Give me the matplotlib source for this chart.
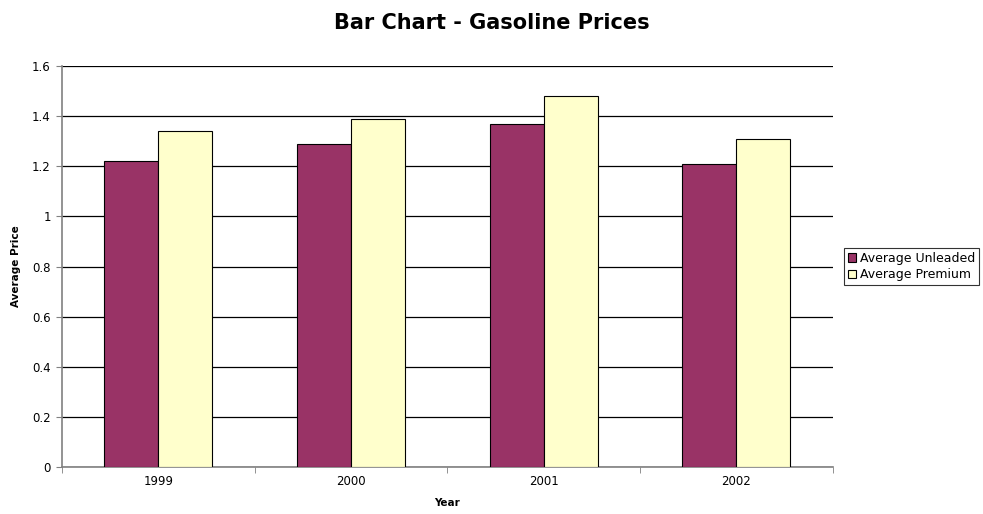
import matplotlib.pyplot as plt
import numpy as np

# data
years = ['1999', '2000', '2001', '2002']
unleaded = [1.22, 1.29, 1.37, 1.21]
premium = [1.34, 1.39, 1.48, 1.31]

plt.rcParams['font.family'] = ['DejaVu Sans']

fig = plt.figure(figsize=(9.83, 5.14), dpi=100)
ax = fig.add_axes([0.063, 0.0914, 0.784, 0.7802])

x = np.arange(len(years))
bar_width = 0.28
ax.bar(x - bar_width / 2, unleaded, bar_width, color='#993366', edgecolor='black',
       linewidth=0.8, label='Average Unleaded', zorder=3)
ax.bar(x + bar_width / 2, premium, bar_width, color='#FFFFCC', edgecolor='black',
       linewidth=0.8, label='Average Premium', zorder=3)

ax.set_xlim(-0.5, len(years) - 0.5)
ax.set_ylim(0, 1.6)
ax.set_yticks(np.arange(0, 1.61, 0.2))
ax.set_yticklabels(['0', '0.2', '0.4', '0.6', '0.8', '1', '1.2', '1.4', '1.6'])
ax.set_xticks(x)
ax.set_xticklabels(years)
ax.set_xticks(np.arange(-0.5, len(years), 1), minor=True)
ax.tick_params(axis='x', which='major', length=0, labelsize=8.5, pad=6)
ax.tick_params(axis='x', which='minor', length=4, color='#808080', direction='out')
ax.tick_params(axis='y', labelsize=8.5, length=4, color='#808080', direction='out', pad=4)

ax.grid(axis='y', color='black', linewidth=0.9, zorder=0)
for side in ['top', 'right']:
    ax.spines[side].set_visible(False)
ax.spines['left'].set_color('#808080')
ax.spines['bottom'].set_color('#808080')
ax.spines['left'].set_linewidth(1.2)
ax.spines['bottom'].set_linewidth(1.2)

ax.set_xlabel('Year', fontsize=7.5, fontweight='bold', labelpad=7)
ax.set_ylabel('Average Price', fontsize=7.5, fontweight='bold', labelpad=8)

fig.suptitle('Bar Chart - Gasoline Prices', fontsize=15, fontweight='bold', y=0.975)

leg = ax.legend(loc='center left', bbox_to_anchor=(1.0, 0.5), fontsize=9,
                frameon=True, fancybox=False, handlelength=0.7, handleheight=0.7,
                handletextpad=0.3, borderpad=0.3, labelspacing=0.3, borderaxespad=0.9)
leg.get_frame().set_edgecolor('black')
leg.get_frame().set_linewidth(0.8)

plt.savefig('out.png', dpi=100)
